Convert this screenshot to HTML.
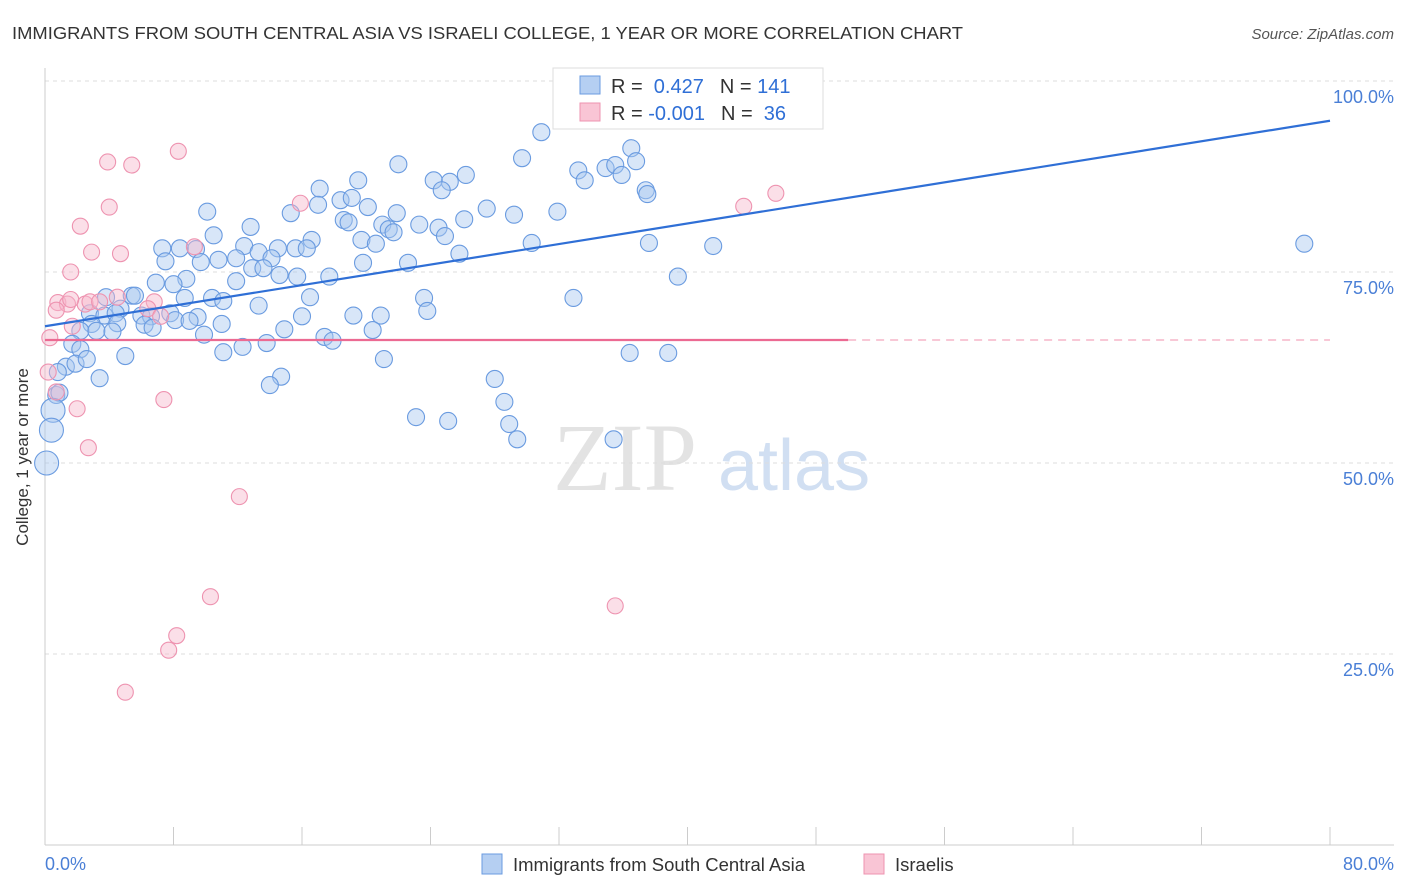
<!DOCTYPE html>
<html><head><meta charset="utf-8"><style>
body{margin:0;background:#fff;font-family:"Liberation Sans",sans-serif;}
svg{display:block}
</style></head><body>
<svg id="chart" width="1406" height="892">
<text x="12" y="39" font-size="17.5" fill="#333" textLength="951" lengthAdjust="spacingAndGlyphs">IMMIGRANTS FROM SOUTH CENTRAL ASIA VS ISRAELI COLLEGE, 1 YEAR OR MORE CORRELATION CHART</text>
<text x="1394" y="39" font-size="15" fill="#555" font-style="italic" text-anchor="end">Source: ZipAtlas.com</text>
<g>
<text x="553" y="490" font-family="Liberation Serif,serif" font-size="96" fill="#ddd" opacity="0.8">ZIP</text>
<text x="718" y="490" font-size="72" fill="#c6d8f0" opacity="0.8">atlas</text>
</g>
<g id="grid"></g>
<g id="axes"></g>
<g id="marks"></g>
<text x="28" y="457" font-size="17" fill="#333" text-anchor="middle" transform="rotate(-90 28 457)">College, 1 year or more</text>
<text x="45" y="870" font-size="18" fill="#4a7fd6">0.0%</text>
<text x="1394" y="870" font-size="18" fill="#4a7fd6" text-anchor="end">80.0%</text>
<g>
<rect x="553" y="68" width="270" height="61" fill="#fff" stroke="#ddd"/>
<rect x="580" y="76" width="20" height="18" fill="#b5cff2" stroke="#6a9be0"/>
<rect x="580" y="103" width="20" height="18" fill="#f9c5d5" stroke="#ee93b0"/>
<text x="611" y="93" font-size="20" fill="#333">R = <tspan fill="#2f6fd6">&#160;0.427</tspan><tspan dx="16">N = </tspan><tspan fill="#2f6fd6">141</tspan></text>
<text x="611" y="120" font-size="20" fill="#333">R = <tspan fill="#2f6fd6">-0.001</tspan><tspan dx="16">N = </tspan><tspan fill="#2f6fd6">&#160;36</tspan></text>
</g>
<g>
<rect x="482" y="854" width="20" height="20" fill="#b5cff2" stroke="#6a9be0"/>
<text x="513" y="871" font-size="18.5" fill="#333">Immigrants from South Central Asia</text>
<rect x="864" y="854" width="20" height="20" fill="#f9c5d5" stroke="#ee93b0"/>
<text x="895" y="871" font-size="18.5" fill="#333">Israelis</text>
</g>
</svg>
<script>
const yTicks=[25,50,75,100];
const yTickLabels=["25.0%","50.0%","75.0%","100.0%"];
const xTicks=[0,8,16,24,32,40,48,56,64,72,80];
const blueX=[30.9,29.7,22.0,33.2,33.6,34.9,35.5,36.5,36.8,35.9,26.2,25.2,24.2,24.7,19.5,17.1,17.0,18.4,19.1,20.1,21.9,15.3,10.1,27.5,29.2,31.9,37.4,37.5,26.1,23.3,24.5,24.9,18.6,18.9,21.0,21.4,21.7,12.8,10.5,16.6,19.7,20.6,30.3,37.6,41.6,78.4,7.3,8.4,9.4,12.4,13.3,14.5,15.6,16.3,7.5,9.7,10.8,11.9,14.1,19.8,22.6,25.8,12.9,13.6,14.6,15.7,17.7,11.9,8.8,8.0,6.9,16.5,39.4,32.9,23.6,23.8,3.8,5.4,5.6,8.7,10.4,11.1,13.3,4.7,2.8,3.7,4.4,6.0,6.6,7.8,9.5,16.0,19.2,20.9,2.9,4.5,6.2,8.1,9.0,11.0,2.2,3.2,4.2,6.7,9.9,14.9,20.4,1.7,2.2,17.4,17.9,12.3,11.1,13.8,5.0,21.1,36.4,38.8,1.3,1.9,2.6,3.4,14.7,14.0,28.0,28.6,0.7,0.9,23.1,25.1,28.9,29.4,35.4,0.5,0.4,0.1,0.8];
const blueY=[93.3,89.9,89.1,88.3,87.0,88.6,89.0,91.2,89.5,87.7,87.7,86.8,87.0,85.7,87.0,85.9,83.8,84.4,84.7,83.5,82.7,82.7,82.9,83.3,82.5,82.9,85.7,85.2,81.9,81.2,80.8,79.7,81.8,81.5,81.2,80.6,80.2,80.9,79.8,79.2,79.2,78.7,78.8,78.8,78.4,78.7,78.1,78.1,78.0,78.4,77.6,78.1,78.1,78.1,76.4,76.3,76.6,76.8,76.8,76.2,76.2,77.4,75.5,75.5,74.6,74.4,74.4,73.8,74.1,73.4,73.6,71.7,74.4,71.6,71.6,69.9,71.7,71.9,71.9,71.6,71.6,71.2,70.6,70.2,69.6,69.3,69.6,69.3,69.2,69.6,69.1,69.2,69.3,69.3,68.2,68.3,68.1,68.7,68.6,68.2,67.3,67.3,67.2,67.7,66.8,67.5,67.4,65.6,64.9,66.5,66.0,65.2,64.5,65.7,64.0,63.6,64.4,64.4,62.6,63.0,63.6,61.1,61.3,60.2,61.0,58.0,58.9,59.2,56.0,55.5,55.1,53.1,53.1,56.9,54.3,50.0,61.9];
const pinkX=[3.9,5.4,8.3,4.0,2.2,2.9,4.7,1.6,15.9,9.3,43.5,45.5,0.8,1.4,2.5,2.8,3.4,4.5,6.8,0.7,1.7,0.3,6.4,7.2,0.2,0.7,2.0,7.4,2.7,12.1,10.3,8.2,7.7,5.0,35.5,1.6];
const pinkY=[89.4,89.0,90.8,83.5,81.0,77.6,77.4,75.0,84.0,78.3,83.6,85.3,71.0,70.8,70.8,71.1,71.1,71.7,71.1,70.0,67.9,66.4,70.2,69.2,61.9,59.3,57.1,58.3,52.0,45.6,32.5,27.4,25.5,20.0,31.3,71.4];
const blueTrend=[67.9,94.8];
const pinkTrend=[66.1,66.1];
const pinkSolidEnd=50;
const NS="http://www.w3.org/2000/svg";
const X0=45,X1=1330,Y0=845,Y1=81;
function sx(v){return X0+(X1-X0)*v/80;}
function sy(v){return Y0-(Y0-Y1)*v/100;}
function mk(tag,attrs,parent){const e=document.createElementNS(NS,tag);for(const k in attrs)e.setAttribute(k,attrs[k]);parent.appendChild(e);return e;}
const grid=document.getElementById('grid'),axes=document.getElementById('axes'),marks=document.getElementById('marks');
yTicks.forEach((t,i)=>{
 const l=mk('line',{x1:X0,x2:1394,y1:sy(t),y2:sy(t),stroke:'#ddd','stroke-dasharray':'4,4'},grid);
 
 
 const tx=mk('text',{x:1394,y:sy(t)+22,'font-size':18,fill:'#4a7fd6','text-anchor':'end'},grid);
 tx.textContent=yTickLabels[i];
 
 
});
const ya=mk('line',{x1:X0,x2:X0,y1:68,y2:Y0,stroke:'#ccc'},axes);


const xa=mk('line',{x1:X0,x2:1394,y1:Y0,y2:Y0,stroke:'#ccc'},axes);


xTicks.forEach(t=>{const l=mk('line',{x1:sx(t),x2:sx(t),y1:827,y2:Y0,stroke:'#ccc'},axes);
 
 });
blueX.forEach((x,i)=>{
 const big=x<0.6&&blueY[i]<58;
 const c=mk('circle',{cx:sx(x),cy:sy(blueY[i]),r:big?12:8.5,fill:'#a9c8ef','fill-opacity':0.45,stroke:'#6a9be0','stroke-width':1.1},marks);
 
 
});
pinkX.forEach((x,i)=>{
 const c=mk('circle',{cx:sx(x),cy:sy(pinkY[i]),r:8,fill:'#f6b8cb','fill-opacity':0.45,stroke:'#ee93b0','stroke-width':1.1},marks);
 
 
});
const bt=mk('line',{x1:sx(0),y1:sy(blueTrend[0]),x2:sx(80),y2:sy(blueTrend[1]),stroke:'#2f6fd6','stroke-width':2.2},marks);


const pyEnd=pinkTrend[0]+(pinkTrend[1]-pinkTrend[0])*pinkSolidEnd/80;
const pt=mk('line',{x1:sx(0),y1:sy(pinkTrend[0]),x2:sx(pinkSolidEnd),y2:sy(pyEnd),stroke:'#ec6a92','stroke-width':2.2},marks);


const pd=mk('line',{x1:sx(pinkSolidEnd),y1:sy(pyEnd),x2:sx(80),y2:sy(pinkTrend[1]),stroke:'#ec6a92','stroke-width':1.2,'stroke-dasharray':'8,6','stroke-opacity':0.6},marks);


</script>
</body></html>
